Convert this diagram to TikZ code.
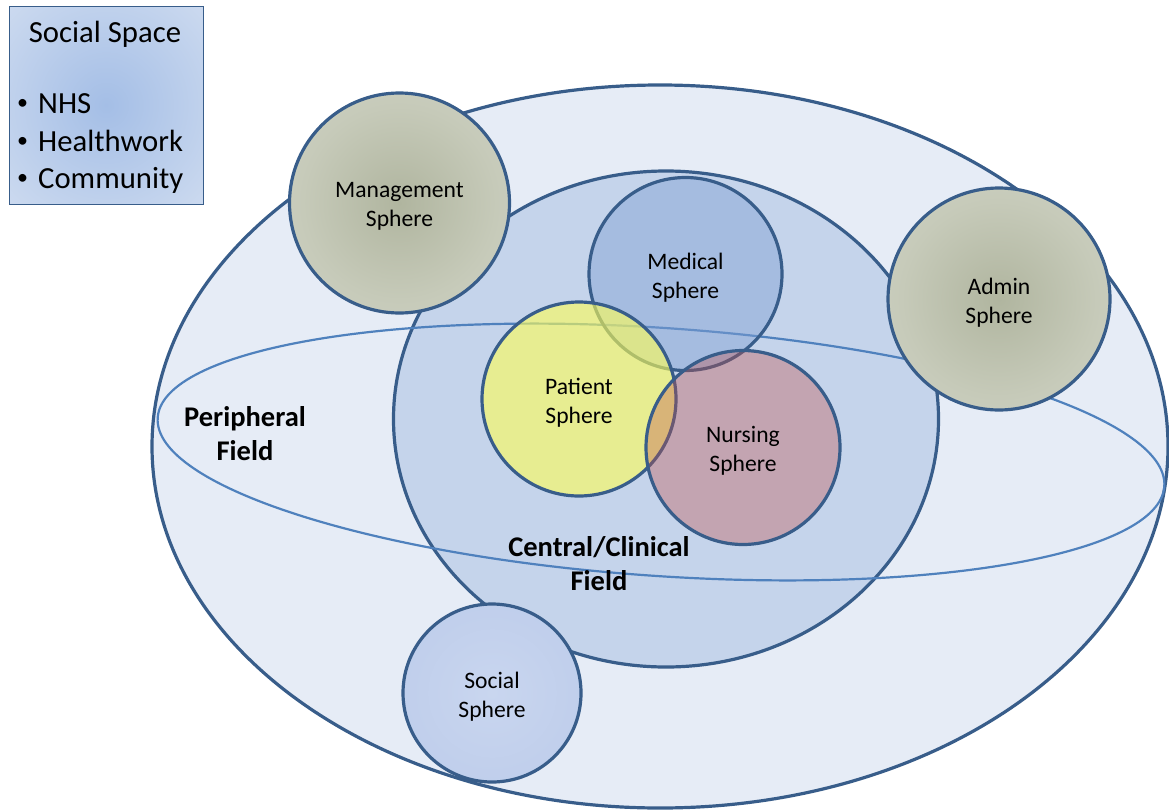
\documentclass[tikz,border=0pt]{standalone}
\usepackage{fontspec}
\setmainfont{Carlito}
\usetikzlibrary{shapes.geometric}
\definecolor{edgeblue}{HTML}{385D8A}
\definecolor{flatedge}{HTML}{4F81BD}
\definecolor{outerfill}{HTML}{E6ECF6}
\definecolor{centralfill}{HTML}{C5D4EB}
\definecolor{medfill}{HTML}{7F9FD3}
\definecolor{patfill}{HTML}{FFFF55}
\definecolor{nursfill}{HTML}{C0504D}
\definecolor{mgin}{HTML}{B0B59F}
\definecolor{mgmid}{HTML}{C6CAB9}
\definecolor{mgout}{HTML}{D9DCD2}
\definecolor{socin}{HTML}{C9D6EF}
\definecolor{socmid}{HTML}{BCCBEA}
\definecolor{socout}{HTML}{DDE5F4}
\definecolor{legin}{HTML}{A4BEE6}
\definecolor{legout}{HTML}{DCE5F3}
\pgfdeclareradialshading{mgshade}{\pgfpoint{0bp}{0bp}}{color(0bp)=(mgin); color(22bp)=(mgmid); color(50bp)=(mgout)}
\pgfdeclareradialshading{socshade}{\pgfpoint{0bp}{0bp}}{color(0bp)=(socin); color(36bp)=(socmid); color(50bp)=(socout)}
\pgfdeclareradialshading{legshade}{\pgfpoint{0bp}{0bp}}{color(0bp)=(legin); color(50bp)=(legout); color(72bp)=(legout)}
\tikzset{
  sphere/.style={circle, draw=edgeblue, line width=3.2pt, inner sep=0pt, minimum size=#1},
  spheretext/.style={align=center, inner sep=0pt, font=\fontsize{23.6}{28.8}\selectfont},
  field/.style={ellipse, draw=edgeblue, line width=3.2pt, inner sep=0pt},
  fieldlabel/.style={align=center, font=\bfseries\fontsize{28.5}{34}\selectfont},
  legtext/.style={anchor=base west, inner sep=0pt, font=\fontsize{30.7}{37.5}\selectfont},
}
\newcommand{\bitem}[1]{\makebox[21pt][l]{\raisebox{0.12em}{\fontsize{22}{22}\selectfont •}}#1}
\begin{document}
\begin{tikzpicture}[x=1pt,y=-1pt]
\useasboundingbox (0,0) rectangle (1169,811);
% fields
\node[field, fill=outerfill, minimum width=1016pt, minimum height=723pt] (outer) at (660,446.5) {};
\node[field, fill=centralfill, minimum width=545pt, minimum height=496pt] (central) at (666,419) {};
\node[ellipse, draw=flatedge, line width=2.2pt, inner sep=0pt, minimum width=1009pt, minimum height=248pt, rotate=-3.9] (flat) at (661,452) {};
% transparent spheres
\node[sphere=193pt, fill=medfill, fill opacity=0.45] (medical) at (685.5,274) {};
\node[sphere=194pt, fill=patfill, fill opacity=0.6] (patient) at (579,399) {};
\node[sphere=194pt, fill=nursfill, fill opacity=0.36] (nursing) at (743,447.5) {};
% opaque spheres
\node[sphere=220pt, shading=mgshade] (mgmt) at (399.5,203) {};
\node[sphere=222pt, shading=mgshade] (admin) at (999,299) {};
\node[sphere=178pt, shading=socshade] (social) at (492,693) {};
% sphere labels
\node[spheretext] (medicalt) at ([yshift=-4pt]medical.center) {Medical\\Sphere};
\node[spheretext] (patientt) at ([yshift=-4pt]patient.center) {Patient\\Sphere};
\node[spheretext] (nursingt) at ([yshift=-3pt]nursing.center) {Nursing\\Sphere};
\node[spheretext] (mgmtt) at ([yshift=-3pt]mgmt.center) {Management\\Sphere};
\node[spheretext] (admint) at ([yshift=-4pt]admin.center) {Admin\\Sphere};
\node[spheretext] (socialt) at ([yshift=-4pt]social.center) {Social\\Sphere};
% field labels
\node[fieldlabel] (periph) at (245,434) {Peripheral\\Field};
\node[fieldlabel] (clin) at (599,564) {Central/Clinical\\Field};
% legend
\node[draw=edgeblue, line width=1.3pt, shading=legshade, anchor=north west, minimum width=194pt, minimum height=198pt, inner sep=0pt] (legend) at (8.5,5.5) {};
\node[anchor=base, inner sep=0pt, font=\fontsize{30.7}{37.5}\selectfont] (legtitle) at (105,42) {Social Space};
\node[legtext] (l1) at (17,113) {\bitem{NHS}};
\node[legtext] (l2) at (17,151) {\bitem{Healthwork}};
\node[legtext] (l3) at (17,188) {\bitem{Community}};
\end{tikzpicture}
\end{document}
